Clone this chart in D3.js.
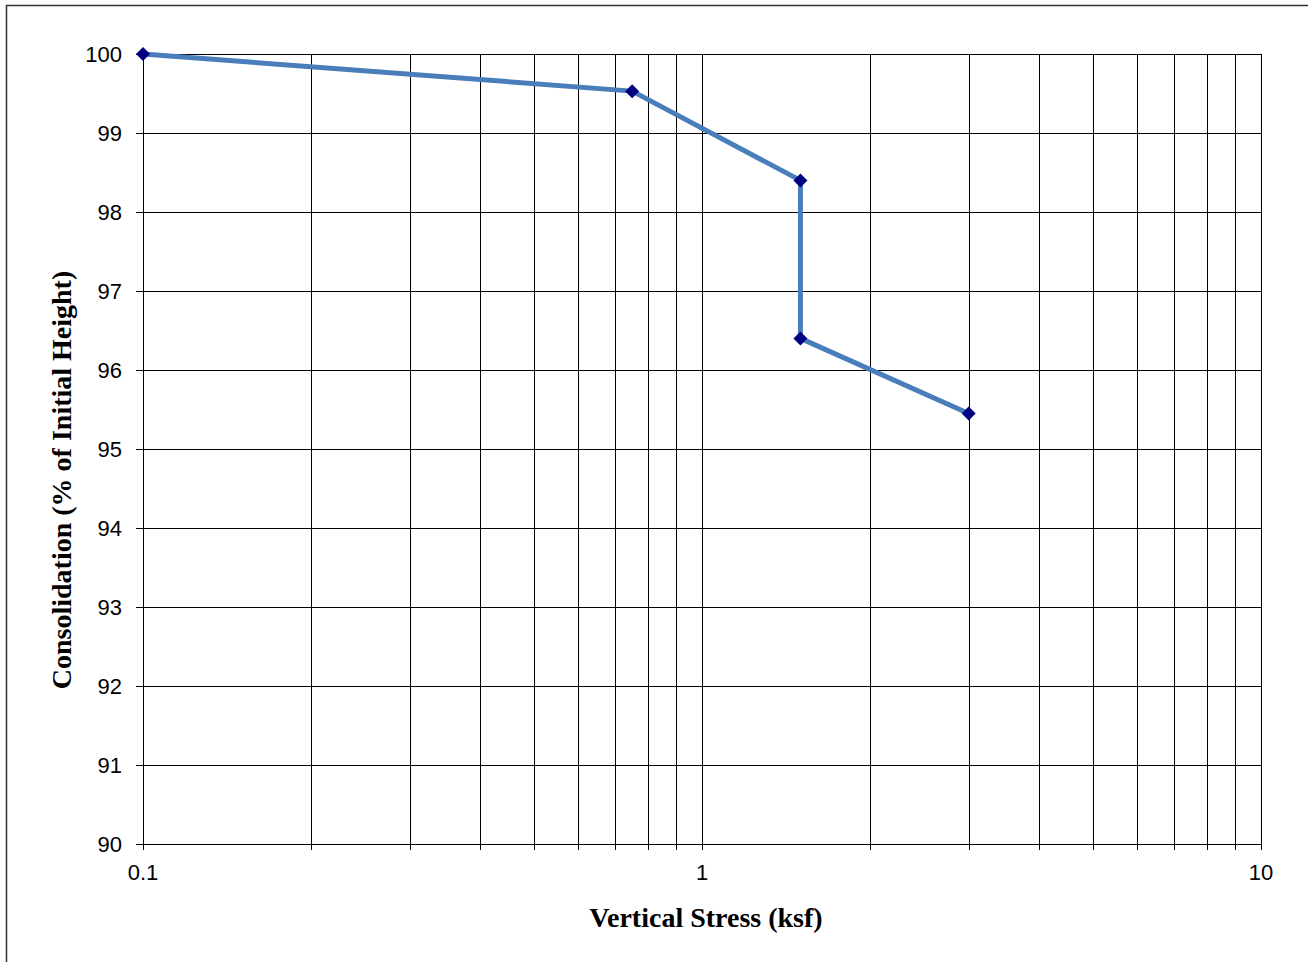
<!DOCTYPE html>
<html><head><meta charset="utf-8">
<script src="https://cdn.jsdelivr.net/npm/d3@7"></script>
<style>body{margin:0;background:#fff}svg{display:block}</style>
</head><body>
<script>
const stress = [0.1, 0.75, 1.5, 1.5, 3];
const consolidation = [100, 99.53, 98.4, 96.4, 95.45];
const yTicks = [90, 91, 92, 93, 94, 95, 96, 97, 98, 99, 100];
const xMajorTicks = [0.1, 1, 10];
const xLabel = "Vertical Stress (ksf)";
const yLabel = "Consolidation (% of Initial Height)";

const W = 1308, H = 962;
const svg = d3.select("body").append("svg").attr("width", W).attr("height", H);
svg.append("path").attr("d", "M6.5,962V5.5H1308").attr("fill", "none").attr("stroke", "#333").attr("stroke-width", 1.5);

const x = d3.scaleLog().domain([0.1, 10]).range([143, 1261]);
const y = d3.scaleLinear().domain([90, 100]).range([844, 54]);

const xGrid = [];
for (let d = 0.1; d < 10; d *= 10) for (let k = 1; k <= 10; k++) xGrid.push(+(d * k).toFixed(3));
const xGridU = Array.from(new Set(xGrid));

const g = svg.append("g");
g.selectAll(".vg").data(xGridU).join("line")
  .attr("x1", d => Math.round(x(d)) + 0.5).attr("x2", d => Math.round(x(d)) + 0.5)
  .attr("y1", y(100)).attr("y2", y(90) + 6)
  .attr("stroke", "#000").attr("stroke-width", 1);
g.selectAll(".hg").data(yTicks).join("line")
  .attr("y1", d => Math.round(y(d)) + 0.5).attr("y2", d => Math.round(y(d)) + 0.5)
  .attr("x1", x(0.1) - 7).attr("x2", x(10))
  .attr("stroke", "#000").attr("stroke-width", 1);

g.selectAll(".yl").data(yTicks).join("text")
  .attr("x", 122).attr("y", d => y(d)).attr("dy", "0.35em")
  .attr("text-anchor", "end").attr("font-family", "Liberation Sans, Arial, sans-serif")
  .attr("font-size", 22).text(d => d);
g.selectAll(".xl").data(xMajorTicks).join("text")
  .attr("x", d => x(d)).attr("y", 880)
  .attr("text-anchor", "middle").attr("font-family", "Liberation Sans, Arial, sans-serif")
  .attr("font-size", 22).text(d => d);

svg.append("text").attr("x", 706).attr("y", 927).attr("text-anchor", "middle")
  .attr("font-family", "Liberation Serif, Times New Roman, serif").attr("font-weight", "bold")
  .attr("font-size", 28).text(xLabel);
svg.append("text").attr("transform", "translate(71,480) rotate(-90)").attr("text-anchor", "middle")
  .attr("font-family", "Liberation Serif, Times New Roman, serif").attr("font-weight", "bold")
  .attr("font-size", 28).text(yLabel);

const data = stress.map((s, i) => ({s, c: consolidation[i]}));
svg.append("path").datum(data)
  .attr("d", d3.line().x(d => x(d.s)).y(d => y(d.c)))
  .attr("fill", "none").attr("stroke", "#4A7EBB").attr("stroke-width", 5).attr("stroke-linejoin", "round");
svg.selectAll(".m").data(data).join("path")
  .attr("transform", d => `translate(${x(d.s)},${y(d.c)})`)
  .attr("d", "M0,-7L7,0L0,7L-7,0Z").attr("fill", "#000080");
</script>
</body></html>
